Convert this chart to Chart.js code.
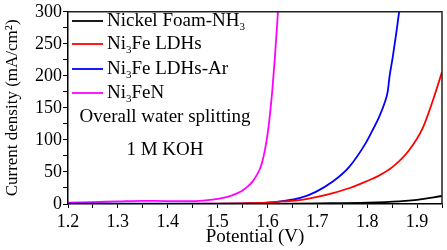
<!DOCTYPE html>
<html>
<head>
<meta charset="utf-8">
<script src="https://cdn.jsdelivr.net/npm/chart.js@4/dist/chart.umd.min.js"></script>
<style>
  html, body { margin: 0; padding: 0; background: #fff; }
  #wrap { width: 447px; height: 250px; position: relative; }
</style>
</head>
<body>
<div id="wrap"><canvas id="c"></canvas></div>
<script>
// ---- Data ----
const seriesLabels = ['Nickel Foam-NH₃', 'Ni₃Fe LDHs', 'Ni₃Fe LDHs-Ar', 'Ni₃FeN'];
const seriesColors = ['#000000', '#ff0000', '#0000ff', '#ff00ff'];

const nickelFoamV = [1.20, 1.40, 1.60, 1.70, 1.80, 1.864, 1.90, 1.95];
const nickelFoamJ = [0.0, 0.0, 0.3, 1.0, 2.0, 4.0, 6.5, 12.5];

const ldhV = [1.20, 1.30, 1.40, 1.50, 1.55, 1.60, 1.63, 1.664, 1.70, 1.731, 1.765, 1.797, 1.825, 1.851, 1.884, 1.911, 1.931, 1.95];
const ldhJ = [0.3, 0.3, 0.3, 0.5, 1.0, 2.0, 4.0, 6.0, 11, 17, 25, 35, 45, 58, 84, 118, 160, 206];

const ldhArV = [1.20, 1.30, 1.40, 1.50, 1.55, 1.60, 1.63, 1.664, 1.697, 1.731, 1.764, 1.797, 1.81, 1.824, 1.835, 1.841, 1.845, 1.851, 1.858, 1.864];
const ldhArJ = [0.5, 0.5, 0.5, 0.6, 1.0, 2.0, 4.5, 9, 19, 35, 58, 95, 114, 136, 158, 175, 200, 228, 265, 300];

const nitrideV = [1.20, 1.25, 1.30, 1.35, 1.40, 1.45, 1.48, 1.50, 1.52, 1.54, 1.55, 1.56, 1.57, 1.58, 1.585, 1.59, 1.595, 1.60, 1.605, 1.61, 1.615, 1.621];
const nitrideJ = [2, 3, 4, 5, 4.5, 4.5, 6, 8, 11, 17, 21, 27, 35, 47, 55, 67, 85, 108, 140, 180, 230, 300];

const xTickMin = 1.2, xTickMax = 1.95, xStep = 0.05;
const yTickMin = 0, yTickMax = 300, yStep = 25;
const noteLines = ['Overall water splitting', '1 M KOH'];

function pts(xs, ys) { return xs.map((x, i) => ({ x: x, y: ys[i] })); }

const FONT = '"Liberation Serif", "Times New Roman", serif';

// custom legend + annotation + frame
const decorPlugin = {
  id: 'decor',
  afterDraw(chart) {
    const ctx = chart.ctx;
    const a = chart.chartArea;
    ctx.save();
    // frame
    ctx.strokeStyle = '#222';
    ctx.lineWidth = 1.5;
    ctx.beginPath();
    ctx.moveTo(a.left, a.top); ctx.lineTo(a.right, a.top); ctx.lineTo(a.right, a.bottom);
    ctx.stroke();
    // legend
    const rowY = [21, 44, 69, 93];
    chart.data.datasets.forEach((ds, i) => {
      const y = rowY[i];
      ctx.strokeStyle = ds.borderColor;
      ctx.lineWidth = 1.8;
      ctx.beginPath(); ctx.moveTo(72, y); ctx.lineTo(103, y); ctx.stroke();
      drawSubText(ctx, ds.label, 107, y, 19);
    });
    // annotation
    ctx.fillStyle = '#000';
    ctx.font = '19px ' + FONT;
    ctx.textAlign = 'center';
    ctx.textBaseline = 'middle';
    ctx.fillText(noteLines[0], 165, 117);
    ctx.fillText(noteLines[1], 165, 150);
    ctx.restore();
  }
};

function drawSubText(ctx, text, x, y, size) {
  ctx.fillStyle = '#000';
  ctx.textAlign = 'left';
  ctx.textBaseline = 'middle';
  let cx = x;
  for (const ch of text) {
    if (ch === '₃') {
      ctx.font = Math.round(size * 0.6) + 'px ' + FONT;
      ctx.fillText('3', cx, y + size * 0.3);
      cx += ctx.measureText('3').width;
    } else {
      ctx.font = size + 'px ' + FONT;
      ctx.fillText(ch, cx, y);
      cx += ctx.measureText(ch).width;
    }
  }
}

const sets = [[nickelFoamV, nickelFoamJ], [ldhV, ldhJ], [ldhArV, ldhArJ], [nitrideV, nitrideJ]];

new Chart(document.getElementById('c'), {
  type: 'line',
  data: {
    datasets: sets.map((s, i) => ({
      label: seriesLabels[i],
      data: pts(s[0], s[1]),
      borderColor: seriesColors[i],
      backgroundColor: seriesColors[i],
      borderWidth: 1.8,
      pointRadius: 0,
      cubicInterpolationMode: 'monotone',
      fill: false
    }))
  },
  options: {
    responsive: true,
    maintainAspectRatio: false,
    animation: false,
    devicePixelRatio: 1,
    layout: { padding: { top: 11, right: 5, left: 0, bottom: 0 } },
    plugins: { legend: { display: false }, tooltip: { enabled: false } },
    scales: {
      x: {
        type: 'linear',
        min: xTickMin, max: xTickMax,
        afterFit(s) { s.height = 46; },
        ticks: {
          stepSize: xStep,
          autoSkip: false,
          maxRotation: 0,
          padding: 3,
          color: '#000',
          font: { family: FONT, size: 18 },
          callback(v) {
            const k = Math.round(v * 100);
            return (k % 10 === 0 && k < 195) ? (k / 100).toFixed(1) : '';
          }
        },
        grid: { drawOnChartArea: false, color: '#000', tickLength: 4, tickWidth: 1 },
        border: { color: '#000', width: 1.5 },
        title: {
          display: true, text: 'Potential (V)', color: '#000',
          font: { family: FONT, size: 19 },
          padding: { top: 0, bottom: 2 }
        }
      },
      y: {
        type: 'linear',
        min: yTickMin, max: yTickMax,
        afterFit(s) { s.width = 68; },
        ticks: {
          stepSize: yStep,
          autoSkip: false,
          padding: 1,
          color: '#000',
          font: { family: FONT, size: 18 },
          callback(v) { return (Math.round(v) % 50 === 0) ? String(Math.round(v)) : ''; }
        },
        grid: { drawOnChartArea: false, color: '#000', tickLength: 5, tickWidth: 1 },
        border: { color: '#000', width: 1.5 },
        title: {
          display: true, text: 'Current density (mA/cm²)', color: '#000',
          font: { family: FONT, size: 17 },
          padding: { top: 2, bottom: 0 }
        }
      }
    }
  },
  plugins: [decorPlugin]
});
</script>
</body>
</html>
